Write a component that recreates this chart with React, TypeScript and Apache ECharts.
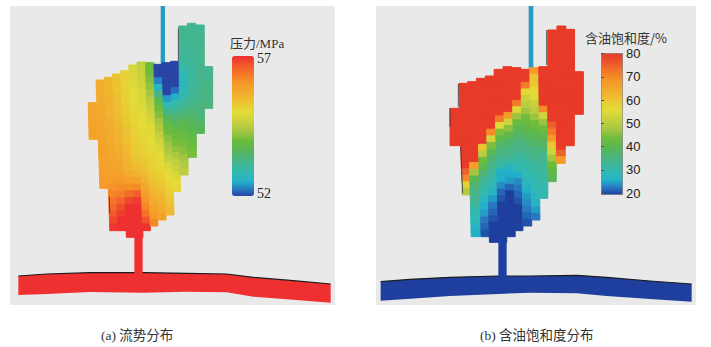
import React, { useEffect, useRef } from "react";
import * as echarts from "echarts";

// ---------- (a) pressure, MPa: one list per mesh column, top to bottom ----------
const pressureColumns: number[][] = [
  [55.8, 55.8, 55.8, 55.85, 55.85],
  [55.7, 55.7, 55.7, 55.7, 55.7, 55.75, 55.75, 55.75, 55.8, 55.8, 55.85, 55.85, 55.9, 55.9, 55.95, 56],
  [55.55, 55.55, 55.55, 55.6, 55.6, 55.6, 55.65, 55.65, 55.7, 55.7, 55.75, 55.75, 55.8, 55.85, 55.9, 55.95, 56.05, 56.2, 56.35, 56.5, 56.65, 56.8, 56.95],
  [55.35, 55.35, 55.35, 55.4, 55.4, 55.45, 55.45, 55.5, 55.55, 55.6, 55.6, 55.65, 55.7, 55.75, 55.8, 55.9, 56, 56.15, 56.3, 56.55, 56.75, 56.9, 57, 57],
  [55.15, 55.15, 55.15, 55.2, 55.2, 55.25, 55.25, 55.3, 55.35, 55.4, 55.4, 55.45, 55.5, 55.55, 55.6, 55.7, 55.85, 56.1, 56.45, 56.8, 57, 57, 57, 57, 57],
  [54.85, 54.9, 54.9, 54.95, 55, 55, 55.05, 55.1, 55.1, 55.15, 55.15, 55.2, 55.25, 55.3, 55.35, 55.45, 55.6, 55.85, 56.15, 56.6, 56.9, 57, 57, 57, 57, 57],
  [54.6, 54.65, 54.7, 54.75, 54.8, 54.85, 54.9, 54.95, 55, 55, 55.05, 55.1, 55.15, 55.2, 55.3, 55.35, 55.45, 55.6, 55.75, 55.9, 56.05, 56.2, 56.4, 56.7, 57],
  [54, 54, 54.1, 54.2, 54.35, 54.5, 54.6, 54.7, 54.8, 54.9, 54.95, 55, 55.05, 55.1, 55.15, 55.2, 55.3, 55.4, 55.5, 55.6, 55.7, 55.85, 56, 56.2],
  [52, 52, 52.3, 52.7, 53.3, 53.7, 53.95, 54.1, 54.3, 54.45, 54.6, 54.75, 54.9, 55, 55.05, 55.1, 55.2, 55.3, 55.4, 55.5, 55.6, 55.7, 55.85],
  [52, 52, 52, 52, 52, 52.4, 52.8, 53.2, 53.6, 53.85, 54, 54.15, 54.3, 54.45, 54.6, 54.8, 54.95, 55.05, 55.1, 55.2, 55.3, 55.4, 55.5],
  [52, 52, 52, 52, 52.2, 52.5, 52.9, 53.1, 53.4, 53.6, 53.8, 53.95, 54.05, 54.2, 54.4, 54.55, 54.7, 54.85, 55, 55.1],
  [53.2, 53.2, 53.15, 53.1, 53.05, 53, 52.9, 52.75, 52.7, 52.75, 52.9, 53.05, 53.3, 53.5, 53.7, 53.8, 53.95, 54.05, 54.15, 54.3, 54.45, 54.55],
  [53.15, 53.15, 53.15, 53.15, 53.1, 53.1, 53.05, 53.05, 53, 53.05, 53.1, 53.15, 53.3, 53.4, 53.55, 53.65, 53.75, 53.85, 53.95, 54.05],
  [53.15, 53.2, 53.2, 53.2, 53.2, 53.2, 53.2, 53.2, 53.2, 53.2, 53.25, 53.3, 53.35, 53.4, 53.5, 53.6],
  [53.2, 53.2, 53.25, 53.3, 53.3, 53.35],
];

// ---------- (b) oil saturation, %: one list per mesh column, top to bottom ----------
const saturationColumns: number[][] = [
  [80, 80, 80, 80, 80, 80],
  [80, 80, 80, 80, 80, 80, 80, 80, 80, 80, 80, 80, 80, 75, 70, 58, 50],
  [80, 80, 80, 80, 80, 80, 80, 80, 80, 80, 80, 80, 67, 48, 40, 37, 35, 34, 32, 30, 29, 27, 26],
  [80, 80, 80, 80, 80, 80, 80, 80, 80, 80, 60, 50, 44, 40, 37, 34, 32, 30, 28, 26, 25, 23, 22, 21],
  [80, 80, 80, 80, 80, 80, 80, 80, 70, 53, 45, 40, 37, 35, 33, 31, 29, 27, 25, 23, 22, 21, 20, 20, 20],
  [80, 80, 80, 80, 80, 80, 80, 72, 55, 45, 41, 38, 36, 34, 32, 26, 26, 24, 22, 21, 20, 20, 20, 20, 20, 20],
  [80, 80, 80, 80, 80, 80, 80, 68, 53, 46, 41, 38, 36, 35, 32, 27, 26, 25, 22, 20, 20, 20, 20, 20, 20, 20],
  [80, 80, 80, 80, 80, 72, 55, 47, 43, 40, 38, 36, 35, 33, 31, 30, 26, 24, 23, 22, 21, 20, 20, 20, 20],
  [80, 80, 72, 57, 52, 50, 47, 44, 42, 40, 38, 36, 35, 33, 31, 30, 29, 28, 26, 25, 24, 23, 22, 21],
  [68, 60, 60, 57, 55, 52, 50, 47, 44, 42, 40, 38, 36, 35, 33, 32, 31, 30, 29, 28, 27, 25, 23],
  [80, 80, 80, 80, 80, 80, 70, 53, 47, 44, 41, 39, 37, 35, 34, 33, 32, 31, 30, 30],
  [80, 80, 80, 80, 80, 80, 80, 80, 80, 80, 80, 80, 80, 80, 75, 72, 68, 60, 53, 48, 44, 41, 40],
  [80, 80, 80, 80, 80, 80, 80, 80, 80, 80, 80, 80, 80, 80, 80, 80, 80, 80, 80, 75, 68],
  [80, 80, 80, 80, 80, 80, 80, 80, 80, 80, 80, 80, 80, 80, 80, 80, 80, 80],
  [80, 80, 80, 80, 80, 80],
];

// mesh outline, in panel units (three units to one screen pixel)
const pressureTops = [308, 240, 232, 222, 212, 195, 186, 188, 193, 188, 184, 78, 70, 75, 200];
const pressureBottoms = [418, 565, 692, 692, 712, 712, 692, 678, 660, 645, 575, 525, 472, 400, 325];
const saturationTops = [325, 250, 245, 235, 228, 208, 200, 203, 208, 203, 200, 90, 78, 88, 215];
const saturationBottoms = [437, 585, 710, 710, 727, 727, 710, 692, 678, 660, 595, 545, 490, 437, 343];
const pressureEdgeShift = [10, 15, 15, 14, 14, 14, 14, 12, 10, 10, 9, 4, 2, 2, 1, 0];
const saturationEdgeShift = [0, 12, 9, 12, 10, 11, 9, 8, 5, 5, 3, 0, -2, -2, -1, 0];

// the conductive strip at the foot of each panel
const pressureStripX = [25, 110, 240, 400, 530, 650, 730, 850, 962];
const pressureStripTop = [828, 822, 818, 818, 820, 822, 832, 842, 852];
const pressureStripBottom = [885, 882, 876, 878, 875, 877, 890, 899, 908];
const saturationStripX = [32, 120, 240, 385, 480, 620, 710, 840, 965];
const saturationStripTop = [845, 838, 832, 828, 828, 826, 832, 843, 852];
const saturationStripBottom = [902, 896, 888, 882, 878, 880, 888, 897, 905];

// ticks and labels
const pressureTicks = [52, 57];
const saturationRange = [20, 80];

const pressureColors = [
  "#2845a5", "#2878c0", "#22b0c8", "#2fb8b8", "#3ab8a0", "#48b48a", "#52b468", "#5eb84a", "#6ebc3c", "#9cc440", "#b8cc40",
  "#d0d43c", "#e3dc38", "#e8cc34", "#f0b830", "#f2a82c", "#f59a28", "#f48228", "#f26a2a", "#f04e2c", "#ee3030",
];
const saturationColors = [
  "#1f3f9f", "#2878c0", "#22b0c8", "#2fb8b8", "#3ab8a0", "#48b48a", "#52b468", "#5eb84a", "#6ebc3c", "#9cc440", "#b8cc40",
  "#d0d43c", "#e3dc38", "#e8cc34", "#f0b830", "#f2a82c", "#f59a28", "#f48228", "#ee6a2a", "#ea4e2a", "#e83a28",
];

const SERIF = '"Liberation Serif","Noto Sans CJK SC"';
const CJK = '"Noto Sans CJK SC","Liberation Serif"';

function buildCells(columns: number[][], tops: number[], bottoms: number[]) {
  const out: number[][] = [];
  columns.forEach((vals, c) => {
    const h = (bottoms[c] - tops[c]) / vals.length;
    vals.forEach((v, i) => out.push([c, tops[c] + h * i, tops[c] + h * (i + 1), v]));
  });
  return out;
}

function poly(points: number[][], api: any, fill: string, extra: any = {}) {
  return {
    type: "polygon",
    shape: { points: points.map((p) => api.coord(p)) },
    style: { fill, stroke: fill, lineWidth: 1, ...extra },
    silent: true,
  };
}

function meshRenderer(x0: number, step: number, base: number, shifts: number[]) {
  const at = (k: number, y: number) => x0 + step * k + ((y - base) / 410) * shifts[k];
  return (_: any, api: any) => {
    const c = api.value(0);
    const t = api.value(1);
    const b = api.value(2);
    return poly([[at(c, t), t], [at(c + 1, t), t], [at(c + 1, b), b], [at(c, b), b]], api, api.visual("color"));
  };
}

function stripRenderer(xs: number[], tops: number[], bots: number[]) {
  return (params: any, api: any) => {
    if (params.dataIndex !== 0) return null;
    const upper = xs.map((x, i) => [x, tops[i]]);
    const lower = xs.map((x, i) => [x, bots[i]]).reverse();
    return {
      type: "group",
      children: [
        poly([...upper, ...lower], api, api.visual("color"), { lineWidth: 0 }),
        {
          type: "polyline",
          shape: { points: upper.map((p) => api.coord(p)) },
          style: { stroke: "#1c1c1c", lineWidth: 1.1, fill: "none" },
          silent: true,
        },
      ],
    };
  };
}

const boxRenderer = (_: any, api: any) => {
  const x0 = api.value(0);
  const x1 = api.value(4);
  const t = api.value(1);
  const b = api.value(2);
  return poly([[x0, t], [x1, t], [x1, b], [x0, b]], api, api.visual("color"), { lineWidth: 0 });
};

const backdropRenderer = (_: any, api: any) => {
  const x0 = api.value(0);
  const t = api.value(1);
  const x1 = api.value(2);
  const b = api.value(3);
  return poly([[x0, t], [x1, t], [x1, b], [x0, b]], api, "#e9e9e9", { lineWidth: 0 });
};

const darkEdgeRenderer = (_: any, api: any) => {
  const a = api.coord([api.value(0), api.value(1)]);
  const b = api.coord([api.value(2), api.value(3)]);
  return {
    type: "line",
    shape: { x1: a[0], y1: a[1], x2: b[0], y2: b[1] },
    style: { stroke: "#333", lineWidth: 0.8 },
    silent: true,
  };
};

const hiddenAxis = { show: false };

export default function App() {
  const ref = useRef<HTMLDivElement>(null);
  useEffect(() => {
    const chart = echarts.init(ref.current!, null, { renderer: "svg" });
    const custom = (grid: number, renderItem: any, data: any[], z = 2) => ({
      type: "custom",
      coordinateSystem: "cartesian2d",
      xAxisIndex: grid,
      yAxisIndex: grid,
      renderItem,
      data,
      z,
      silent: true,
      animation: false,
    });
    const stripData = (xs: number[], t: number[], b: number[], v: number) => xs.map((x, i) => [x, t[i], b[i], v]);

    chart.setOption({
      animation: false,
      backgroundColor: "#fff",
      grid: [
        { left: 10, top: 0, width: 340, height: 347 },
        { left: 370, top: 0, width: 341, height: 347 },
        { left: 232, top: 58, width: 22, height: 135.5 },
        { left: 601, top: 53.5, width: 21, height: 139.5 },
      ],
      xAxis: [
        { type: "value", min: 0, max: 1020, gridIndex: 0, ...hiddenAxis },
        { type: "value", min: 0, max: 1023, gridIndex: 1, ...hiddenAxis },
        { type: "value", gridIndex: 2, ...hiddenAxis },
        { type: "value", gridIndex: 3, ...hiddenAxis },
      ],
      yAxis: [
        { type: "value", min: 0, max: 1041, inverse: true, gridIndex: 0, ...hiddenAxis },
        { type: "value", min: 0, max: 1041, inverse: true, gridIndex: 1, ...hiddenAxis },
        {
          type: "value",
          gridIndex: 2,
          position: "right",
          min: pressureTicks[0],
          max: pressureTicks[1],
          z: 20,
          splitLine: { show: false },
          axisLine: { show: false },
          axisTick: { show: false },
          axisLabel: { customValues: pressureTicks, margin: 3, color: "#222", fontFamily: SERIF, fontSize: 14 },
        },
        {
          type: "value",
          gridIndex: 3,
          position: "right",
          min: saturationRange[0],
          max: saturationRange[1],
          interval: 10,
          z: 20,
          splitLine: { show: false },
          axisLine: { show: false },
          axisTick: { show: true, length: 3, lineStyle: { color: "#555" } },
          axisLabel: { margin: 4, color: "#222", fontFamily: '"Liberation Sans"', fontSize: 13 },
        },
      ],
      visualMap: [
        {
          type: "continuous",
          seriesIndex: [1, 2, 3],
          dimension: 3,
          min: pressureTicks[0],
          max: pressureTicks[1],
          inRange: { color: pressureColors },
          left: 232,
          top: 56,
          itemWidth: 22,
          itemHeight: 140,
          padding: 0,
          calculable: false,
          hoverLink: false,
          text: ["", ""],
        },
        {
          type: "continuous",
          seriesIndex: [6, 7, 8],
          dimension: 3,
          min: saturationRange[0],
          max: saturationRange[1],
          inRange: { color: saturationColors },
          left: 601,
          top: 53,
          itemWidth: 21,
          itemHeight: 141,
          padding: 0,
          borderColor: "#777",
          borderWidth: 1,
          calculable: false,
          hoverLink: false,
          text: ["", ""],
        },
      ],
      series: [
        custom(0, backdropRenderer, [[0, 18, 975, 915]], -1),
        custom(0, stripRenderer(pressureStripX, pressureStripTop, pressureStripBottom), stripData(pressureStripX, pressureStripTop, pressureStripBottom, 57)),
        custom(0, boxRenderer, [
          [373, 705, 825, 57, 398],
          [452, 18, 192, 52.4, 465],
        ]),
        custom(0, meshRenderer(233, 25, 240, pressureEdgeShift), buildCells(pressureColumns, pressureTops, pressureBottoms)),
        custom(0, darkEdgeRenderer, [
          [505, 85, 505, 182],
          [298, 590, 299, 640],
        ]),
        custom(1, backdropRenderer, [[18, 18, 978, 915]], -1),
        custom(1, stripRenderer(saturationStripX, saturationStripTop, saturationStripBottom), stripData(saturationStripX, saturationStripTop, saturationStripBottom, 20)),
        custom(1, boxRenderer, [
          [385, 720, 835, 20, 410],
          [476, 18, 205, 24.8, 490],
        ]),
        custom(1, meshRenderer(240, 26.67, 250, saturationEdgeShift), buildCells(saturationColumns, saturationTops, saturationBottoms)),
        custom(1, darkEdgeRenderer, [
          [530, 90, 530, 195],
          [240, 325, 240, 380],
          [265, 252, 265, 322],
          [272, 440, 278, 580],
        ]),
      ],
      graphic: [
        { type: "text", x: 230, y: 43, z: 20, style: { text: "压力/MPa", fill: "#333", font: `13px ${SERIF}`, textVerticalAlign: "middle" } },
        { type: "text", x: 585, y: 37, z: 20, style: { text: "含油饱和度/%", fill: "#333", font: `13px ${CJK}`, textVerticalAlign: "middle" } },
        { type: "text", x: 101, y: 335, z: 20, style: { text: "(a) 流势分布", fill: "#333", font: `13.5px ${SERIF}`, textVerticalAlign: "middle" } },
        { type: "text", x: 480, y: 335, z: 20, style: { text: "(b) 含油饱和度分布", fill: "#333", font: `13.5px ${SERIF}`, textVerticalAlign: "middle" } },
      ],
    });
    return () => chart.dispose();
  }, []);
  return <div ref={ref} style={{ position: "fixed", left: 0, top: 0, width: 711, height: 347 }} />;
}
